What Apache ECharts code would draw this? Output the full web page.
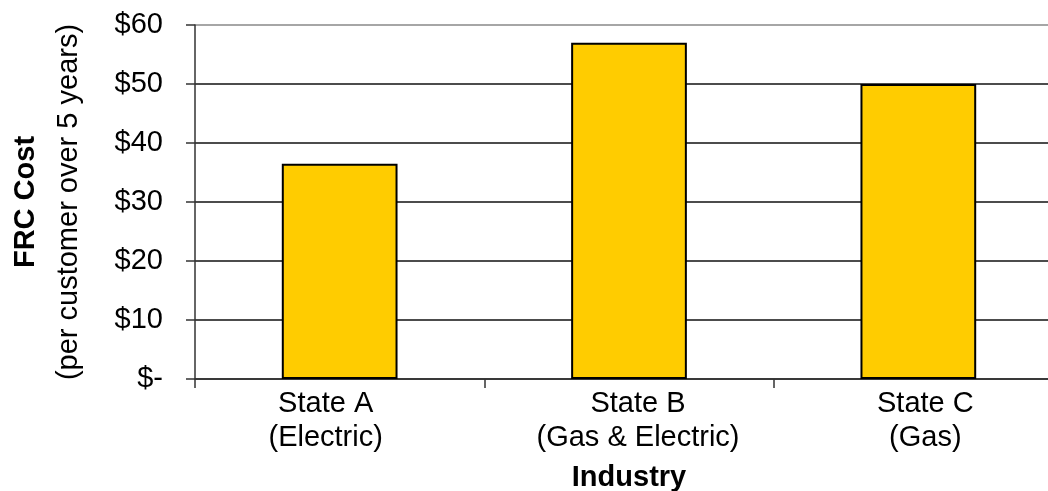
<!DOCTYPE html>
<html>
<head>
<meta charset="utf-8">
<script src="https://cdn.jsdelivr.net/npm/echarts@6/dist/echarts.min.js"></script>
<style>
  html, body { margin: 0; padding: 0; background: #fff; }
  #chart { width: 1048px; height: 491px; }
</style>
</head>
<body>
<div id="chart"></div>
<script>
// FRC cost per customer over 5 years, by state / industry
const categories = ['State A\n(Electric)', 'State B\n(Gas & Electric)', 'State C\n(Gas)'];
const frcCost = [36.5, 57, 50];
const yTicks = [0, 10, 20, 30, 40, 50, 60];

const FONT = '"Liberation Sans", Arial, sans-serif';
const FS = 29;

// small horizontal nudges of the category labels (px, + = right)
const labelNudge = [-14, 9, 7];
const labelRich = {};
labelNudge.forEach((d, i) => {
  labelRich['c' + i] = {
    fontFamily: FONT, fontSize: FS, color: '#000', lineHeight: 34,
    padding: d >= 0 ? [0, 0, 0, 2 * d] : [0, -2 * d, 0, 0]
  };
});

const chart = echarts.init(document.getElementById('chart'), null, { renderer: 'canvas' });

chart.setOption({
  animation: false,
  backgroundColor: '#ffffff',
  grid: { left: 195, width: 868, top: 25, height: 354, containLabel: false, outerBoundsMode: 'none' },
  xAxis: {
    type: 'category',
    data: categories,
    name: 'Industry',
    nameLocation: 'middle',
    nameGap: 84,
    nameTextStyle: { fontFamily: FONT, fontSize: FS, fontWeight: 'bold', color: '#000' },
    axisLine: { show: true, lineStyle: { color: '#333', width: 1.5 } },
    axisTick: { show: true, interval: 0, alignWithLabel: false, length: 9, lineStyle: { color: '#333', width: 1.5 } },
    axisLabel: {
      interval: 0,
      hideOverlap: false,
      margin: 8,
      fontFamily: FONT, fontSize: FS, color: '#000', lineHeight: 34,
      formatter: (value, idx) => value.split('\n').map(s => '{c' + idx + '|' + s + '}').join('\n'),
      rich: labelRich
    },
    splitLine: { show: false }
  },
  yAxis: {
    type: 'value',
    min: yTicks[0],
    max: yTicks[yTicks.length - 1],
    interval: 10,
    name: '{b|FRC Cost}\n{n|(per customer over 5 years)}',
    nameLocation: 'middle',
    nameRotate: 90,
    nameGap: 105,
    nameTextStyle: {
      rich: {
        b: { fontFamily: FONT, fontSize: FS, fontWeight: 'bold', color: '#000', lineHeight: 43 },
        n: { fontFamily: FONT, fontSize: FS, color: '#000', lineHeight: 43 }
      }
    },
    axisLine: { show: true, lineStyle: { color: '#333', width: 1.5 } },
    axisTick: { show: true, length: 9, lineStyle: { color: '#333', width: 1.5 } },
    axisLabel: {
      margin: 32,
      fontFamily: FONT, fontSize: FS, color: '#000',
      formatter: v => (v === 0 ? '$-' : '$' + v)
    },
    splitLine: {
      show: true,
      lineStyle: { color: ['#111', '#111', '#111', '#111', '#111', '#111', '#888'], width: 1.5 }
    }
  },
  series: [{
    type: 'bar',
    data: frcCost,
    barWidth: '40%',
    itemStyle: { color: '#FFCC00', borderColor: '#000', borderWidth: 2 }
  }]
});
</script>
</body>
</html>
